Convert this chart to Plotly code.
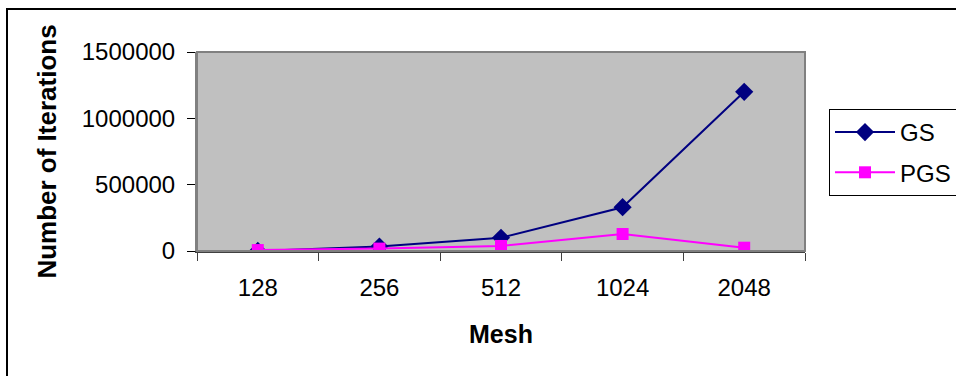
import plotly.graph_objects as go

mesh = ["128", "256", "512", "1024", "2048"]
gs = [500, 33000, 100000, 330000, 1200000]
pgs = [7000, 18000, 38000, 128000, 25000]
y_ticks = [0, 500000, 1000000, 1500000]

FONT = "Liberation Sans, Arial, sans-serif"

L, R, T, B = 197, 805, 52, 251
W, H = 956, 376
pw, ph = R - L, B - T

def px(x):
    return (x - L) / pw

def py(y):
    return (B - y) / ph

fig = go.Figure()
fig.add_trace(go.Scatter(
    x=mesh, y=gs, name="GS", mode="lines+markers",
    line=dict(color="#000080", width=2),
    marker=dict(symbol="diamond", size=14, color="#000080"),
    legendgroup="a",
))
fig.add_trace(go.Scatter(
    x=mesh, y=pgs, name="PGS", mode="lines+markers",
    line=dict(color="#FF00FF", width=2),
    marker=dict(symbol="square", size=12, color="#FF00FF"),
    legendgroup="b",
))

fig.update_layout(
    width=W, height=H,
    margin=dict(l=L, r=W - R, t=T, b=H - B, pad=0, autoexpand=False),
    paper_bgcolor="white",
    plot_bgcolor="#C0C0C0",
    font=dict(family=FONT, size=24, color="black"),
    showlegend=True,
    legend=dict(
        x=px(829), y=py(109), xanchor="left", yanchor="top",
        bordercolor="black", borderwidth=1, bgcolor="white",
        font=dict(family=FONT, size=24, color="black"),
        tracegroupgap=6, traceorder="grouped", itemwidth=60,
    ),
    shapes=[
        dict(type="rect", xref="paper", yref="paper", x0=0, x1=1, y0=0, y1=1,
             line=dict(color="#808080", width=2), layer="above"),
        dict(type="rect", xref="paper", yref="paper",
             x0=px(7), x1=px(965), y0=py(390), y1=py(9),
             line=dict(color="black", width=2)),
    ],
)

fig.update_xaxes(
    type="category", range=[-0.5, 4.5],
    showgrid=False, zeroline=False,
    showline=True, linecolor="#404040", linewidth=2,
    ticks="outside", tickson="boundaries", ticklen=8, tickcolor="#404040", tickwidth=1,
    tickfont=dict(size=24), ticklabelstandoff=14,
    title=dict(text="<b>Mesh</b>", font=dict(size=25), standoff=26),
)
fig.update_yaxes(
    range=[0, 1500000], tickvals=y_ticks, tickformat="d",
    showgrid=False, zeroline=False,
    showline=True, linecolor="#808080", linewidth=2,
    ticks="outside", ticklen=8, tickcolor="black", tickwidth=1,
    tickfont=dict(size=24), ticklabelstandoff=7,
    title=dict(text="<b>Number of Iterations</b>", font=dict(size=26), standoff=18),
)

fig.write_html(
    "out.html",
    config={"displayModeBar": False},
    post_script="document.body.style.margin='0';document.body.style.overflow='hidden';",
)
